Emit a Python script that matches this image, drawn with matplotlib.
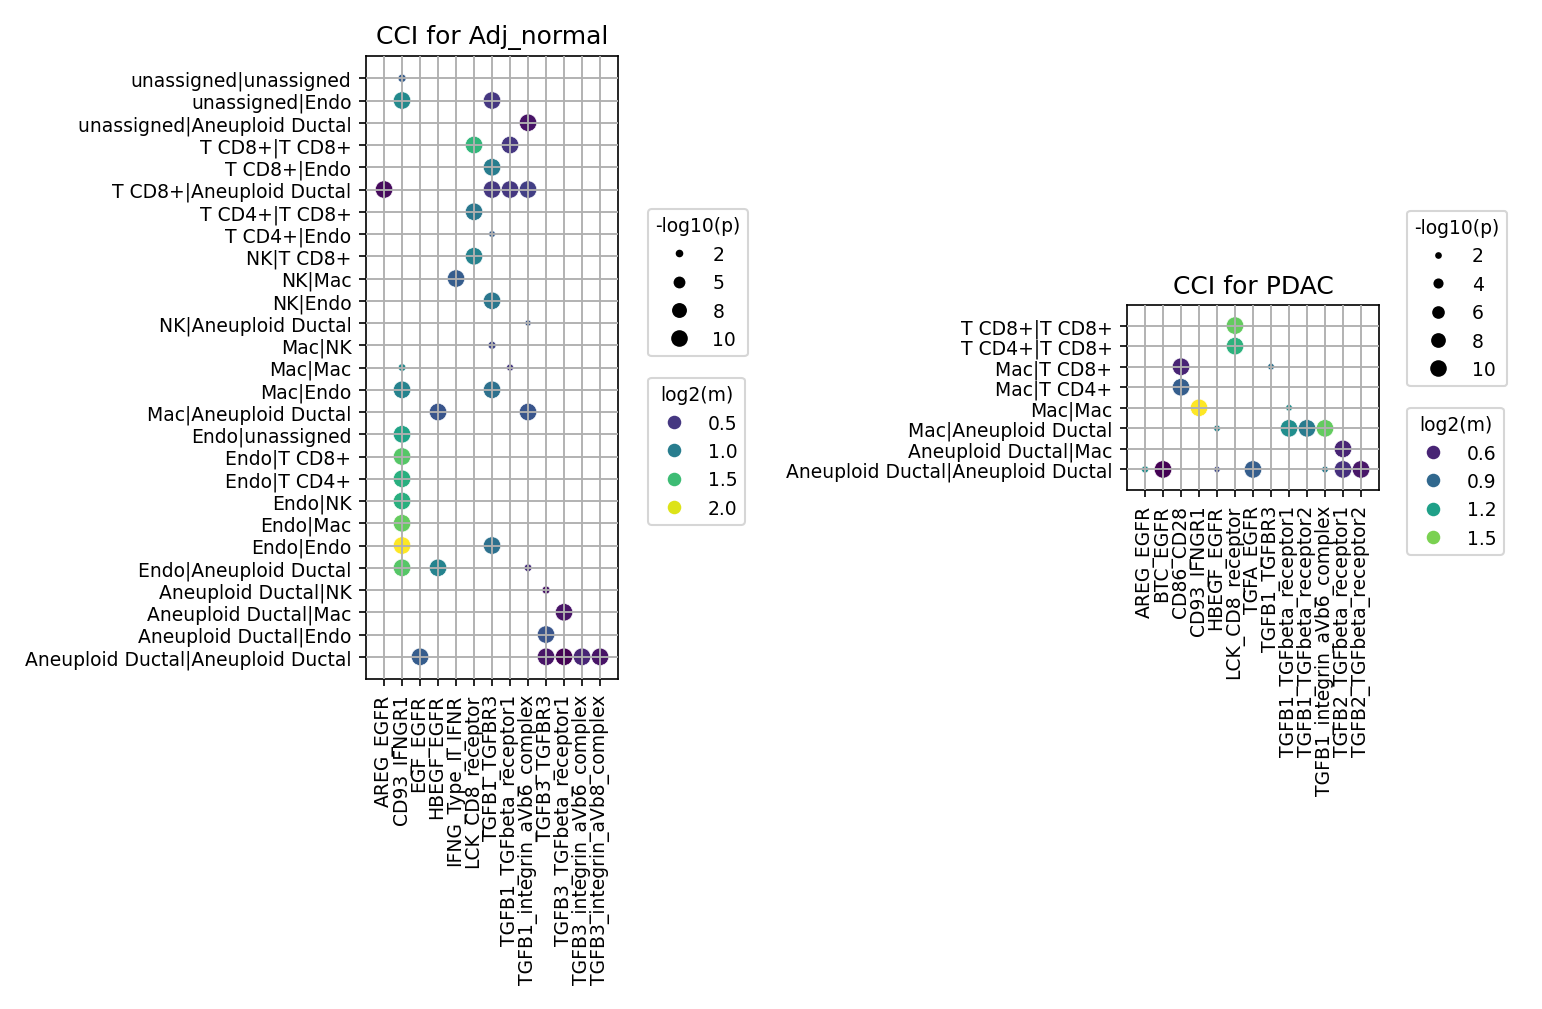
import numpy as np
import matplotlib
matplotlib.use('Agg')
import matplotlib.pyplot as plt
from matplotlib.lines import Line2D

plt.rcParams['font.size'] = 9.0

# ---- Adj_normal ----
adj_lrs = ['AREG_EGFR', 'CD93_IFNGR1', 'EGF_EGFR', 'HBEGF_EGFR', 'IFNG_Type_II_IFNR',
           'LCK_CD8_receptor', 'TGFB1_TGFBR3', 'TGFB1_TGFbeta_receptor1',
           'TGFB1_integrin_aVb6_complex', 'TGFB3_TGFBR3', 'TGFB3_TGFbeta_receptor1',
           'TGFB3_integrin_aVb6_complex', 'TGFB3_integrin_aVb8_complex']
adj_pairs = ['unassigned|unassigned', 'unassigned|Endo', 'unassigned|Aneuploid Ductal',
             'T CD8+|T CD8+', 'T CD8+|Endo', 'T CD8+|Aneuploid Ductal', 'T CD4+|T CD8+',
             'T CD4+|Endo', 'NK|T CD8+', 'NK|Mac', 'NK|Endo', 'NK|Aneuploid Ductal',
             'Mac|NK', 'Mac|Mac', 'Mac|Endo', 'Mac|Aneuploid Ductal', 'Endo|unassigned',
             'Endo|T CD8+', 'Endo|T CD4+', 'Endo|NK', 'Endo|Mac', 'Endo|Endo',
             'Endo|Aneuploid Ductal', 'Aneuploid Ductal|NK', 'Aneuploid Ductal|Mac',
             'Aneuploid Ductal|Endo', 'Aneuploid Ductal|Aneuploid Ductal']
adj_pt_pair = ['unassigned|unassigned', 'unassigned|Endo', 'unassigned|Endo',
               'unassigned|Aneuploid Ductal', 'T CD8+|T CD8+', 'T CD8+|T CD8+',
               'T CD8+|Endo', 'T CD8+|Aneuploid Ductal', 'T CD8+|Aneuploid Ductal',
               'T CD8+|Aneuploid Ductal', 'T CD8+|Aneuploid Ductal', 'T CD4+|T CD8+',
               'T CD4+|Endo', 'NK|T CD8+', 'NK|Mac', 'NK|Endo', 'NK|Aneuploid Ductal',
               'Mac|NK', 'Mac|Mac', 'Mac|Mac', 'Mac|Endo', 'Mac|Endo',
               'Mac|Aneuploid Ductal', 'Mac|Aneuploid Ductal', 'Endo|unassigned',
               'Endo|T CD8+', 'Endo|T CD4+', 'Endo|NK', 'Endo|Mac', 'Endo|Endo', 'Endo|Endo',
               'Endo|Aneuploid Ductal', 'Endo|Aneuploid Ductal', 'Endo|Aneuploid Ductal',
               'Aneuploid Ductal|NK', 'Aneuploid Ductal|Mac', 'Aneuploid Ductal|Endo',
               'Aneuploid Ductal|Aneuploid Ductal', 'Aneuploid Ductal|Aneuploid Ductal',
               'Aneuploid Ductal|Aneuploid Ductal', 'Aneuploid Ductal|Aneuploid Ductal',
               'Aneuploid Ductal|Aneuploid Ductal']
adj_pt_lr = ['CD93_IFNGR1', 'CD93_IFNGR1', 'TGFB1_TGFBR3',
             'TGFB1_integrin_aVb6_complex', 'LCK_CD8_receptor', 'TGFB1_TGFbeta_receptor1',
             'TGFB1_TGFBR3', 'AREG_EGFR', 'TGFB1_TGFBR3',
             'TGFB1_TGFbeta_receptor1', 'TGFB1_integrin_aVb6_complex', 'LCK_CD8_receptor',
             'TGFB1_TGFBR3', 'LCK_CD8_receptor', 'IFNG_Type_II_IFNR', 'TGFB1_TGFBR3',
             'TGFB1_integrin_aVb6_complex',
             'TGFB1_TGFBR3', 'CD93_IFNGR1', 'TGFB1_TGFbeta_receptor1', 'CD93_IFNGR1',
             'TGFB1_TGFBR3', 'HBEGF_EGFR', 'TGFB1_integrin_aVb6_complex', 'CD93_IFNGR1',
             'CD93_IFNGR1', 'CD93_IFNGR1', 'CD93_IFNGR1', 'CD93_IFNGR1', 'CD93_IFNGR1',
             'TGFB1_TGFBR3', 'CD93_IFNGR1', 'HBEGF_EGFR', 'TGFB1_integrin_aVb6_complex',
             'TGFB3_TGFBR3', 'TGFB3_TGFbeta_receptor1', 'TGFB3_TGFBR3',
             'EGF_EGFR', 'TGFB3_TGFBR3', 'TGFB3_TGFbeta_receptor1',
             'TGFB3_integrin_aVb6_complex', 'TGFB3_integrin_aVb8_complex']
adj_log2m = [0.75, 1.1, 0.5, 0.3, 1.45, 0.5, 1.0, 0.25, 0.5, 0.5, 0.55, 0.95,
             0.75, 1.05, 0.75, 0.95, 0.7, 0.6, 1.1, 0.5, 1.05, 0.9, 0.7, 0.7,
             1.3, 1.6, 1.4, 1.4, 1.65, 2.1, 0.9, 1.6, 1.05, 0.45, 0.3, 0.3, 0.7,
             0.75, 0.3, 0.2, 0.4, 0.3]
adj_logp = [2.3, 11, 11, 11, 11, 11, 11, 11, 11, 11, 11, 11,
            1.5, 11, 11, 11, 1.3, 2.2, 2.0, 1.7, 11, 11, 11, 11,
            11, 11, 11, 11, 11, 11, 11, 11, 11, 2.0, 2.2, 11, 11,
            11, 11, 11, 11, 11]
adj_size_levels = [2, 5, 8, 10]
adj_hue_levels = [0.5, 1.0, 1.5, 2.0]

# ---- PDAC ----
pdac_lrs = ['AREG_EGFR', 'BTC_EGFR', 'CD86_CD28', 'CD93_IFNGR1', 'HBEGF_EGFR',
            'LCK_CD8_receptor', 'TGFA_EGFR', 'TGFB1_TGFBR3', 'TGFB1_TGFbeta_receptor1',
            'TGFB1_TGFbeta_receptor2', 'TGFB1_integrin_aVb6_complex',
            'TGFB2_TGFbeta_receptor1', 'TGFB2_TGFbeta_receptor2']
pdac_pairs = ['T CD8+|T CD8+', 'T CD4+|T CD8+', 'Mac|T CD8+', 'Mac|T CD4+', 'Mac|Mac',
              'Mac|Aneuploid Ductal', 'Aneuploid Ductal|Mac',
              'Aneuploid Ductal|Aneuploid Ductal']
pdac_pt_pair = ['T CD8+|T CD8+', 'T CD4+|T CD8+', 'Mac|T CD8+', 'Mac|T CD8+',
                'Mac|T CD4+', 'Mac|Mac', 'Mac|Mac', 'Mac|Aneuploid Ductal',
                'Mac|Aneuploid Ductal', 'Mac|Aneuploid Ductal', 'Mac|Aneuploid Ductal',
                'Aneuploid Ductal|Mac', 'Aneuploid Ductal|Aneuploid Ductal',
                'Aneuploid Ductal|Aneuploid Ductal', 'Aneuploid Ductal|Aneuploid Ductal',
                'Aneuploid Ductal|Aneuploid Ductal', 'Aneuploid Ductal|Aneuploid Ductal',
                'Aneuploid Ductal|Aneuploid Ductal', 'Aneuploid Ductal|Aneuploid Ductal']
pdac_pt_lr = ['LCK_CD8_receptor', 'LCK_CD8_receptor', 'CD86_CD28', 'TGFB1_TGFBR3',
              'CD86_CD28', 'CD93_IFNGR1', 'TGFB1_TGFbeta_receptor1', 'HBEGF_EGFR',
              'TGFB1_TGFbeta_receptor1', 'TGFB1_TGFbeta_receptor2',
              'TGFB1_integrin_aVb6_complex', 'TGFB2_TGFbeta_receptor1',
              'AREG_EGFR', 'BTC_EGFR', 'HBEGF_EGFR', 'TGFA_EGFR',
              'TGFB1_integrin_aVb6_complex', 'TGFB2_TGFbeta_receptor1',
              'TGFB2_TGFbeta_receptor2']
pdac_log2m = [1.45, 1.3, 0.6, 0.95, 0.85, 1.76, 1.1, 1.05, 1.1, 1.0, 1.45, 0.6,
              1.1, 0.47, 0.75, 0.85, 1.0, 0.65, 0.55]
pdac_logp = [11, 11, 11, 2.0, 11, 11, 2.0, 2.0, 11, 11, 11, 11,
             2.2, 11, 1.8, 11, 2.0, 11, 11]
pdac_size_levels = [2, 4, 6, 8, 10]
pdac_hue_levels = [0.6, 0.9, 1.2, 1.5]

SMIN, SMAX = 9, 70
cmap = plt.get_cmap('viridis')


def size_map(v, vmin, vmax):
    return SMIN + (np.asarray(v, float) - vmin) / (vmax - vmin) * (SMAX - SMIN)


def dotplot(ax, lrs, pairs, pt_pair, pt_lr, log2m, logp, size_levels, hue_levels,
            title, leg_x, leg_y):
    xs = [lrs.index(l) for l in pt_lr]
    ys = [len(pairs) - 1 - pairs.index(p) for p in pt_pair]
    norm = plt.Normalize(min(log2m), max(log2m))
    pmin, pmax = min(logp), max(logp)
    ax.scatter(xs, ys, s=size_map(logp, pmin, pmax), c=log2m, cmap=cmap, norm=norm,
               edgecolors='white', linewidths=0.3, zorder=1)
    ax.set_xticks(range(len(lrs)))
    ax.set_xticklabels(lrs, rotation=90)
    ax.set_yticks(range(len(pairs)))
    ax.set_yticklabels(pairs[::-1])
    ax.set_xlim(-1, len(lrs))
    ax.set_ylim(-1, len(pairs))
    ax.grid(True, color='#b0b0b0', linewidth=0.9)
    ax.set_axisbelow(False)
    ax.set_title(title, fontsize=12)

    fig = ax.figure
    size_handles = [Line2D([], [], marker='o', linestyle='', color='black',
                           markeredgewidth=0,
                           markersize=np.sqrt(size_map(v, pmin, pmax)))
                    for v in size_levels]
    hue_handles = [Line2D([], [], marker='o', linestyle='', color=cmap(norm(v)),
                          markeredgewidth=0, markersize=6.5)
                   for v in hue_levels]
    leg1 = ax.legend(size_handles, [str(v) for v in size_levels], title='-log10(p)',
                     loc='lower left', bbox_to_anchor=(leg_x, leg_y + 0.011),
                     bbox_transform=fig.transFigure, borderaxespad=0)
    ax.add_artist(leg1)
    ax.legend(hue_handles, [f'{v:.1f}' for v in hue_levels], title='log2(m)',
              loc='upper left', bbox_to_anchor=(leg_x, leg_y - 0.010),
              bbox_transform=fig.transFigure, borderaxespad=0)


fig = plt.figure(figsize=(10.28, 6.733), dpi=150)
ax1 = fig.add_axes([0.2374, 0.3267, 0.1634, 0.6169])
ax2 = fig.add_axes([0.7309, 0.5139, 0.1634, 0.1831])

dotplot(ax1, adj_lrs, adj_pairs, adj_pt_pair, adj_pt_lr, adj_log2m, adj_logp,
        adj_size_levels, adj_hue_levels, 'CCI for Adj_normal', 0.4202, 0.6351)
dotplot(ax2, pdac_lrs, pdac_pairs, pdac_pt_pair, pdac_pt_lr, pdac_log2m, pdac_logp,
        pdac_size_levels, pdac_hue_levels, 'CCI for PDAC', 0.9125, 0.6054)

fig.savefig('out.png', dpi=150)
